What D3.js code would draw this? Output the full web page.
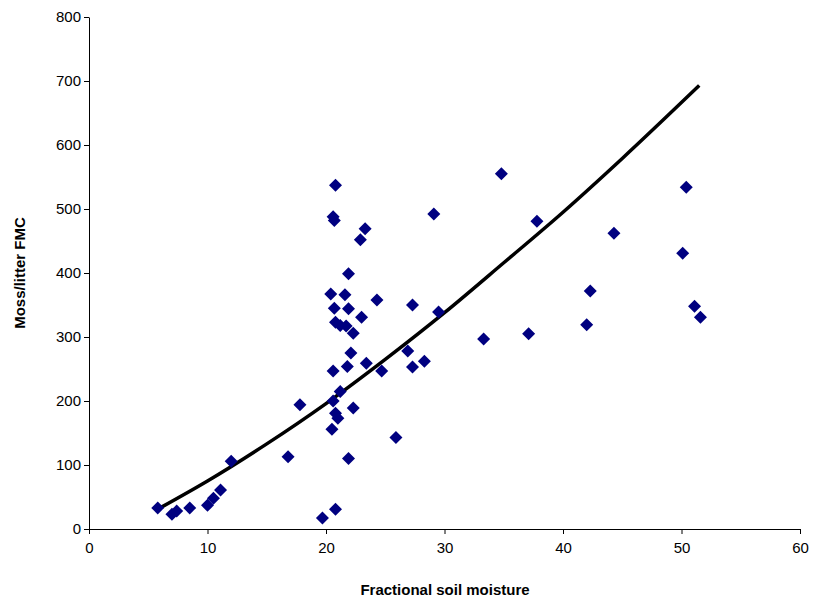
<!DOCTYPE html><html><head><script src="https://cdn.jsdelivr.net/npm/d3@7"></script>
<style>body{margin:0;background:#fff}</style></head><body><svg width="816" height="603"></svg><script>
const xs=[5.8,7.0,7.4,8.5,10.0,10.5,11.1,12.0,16.8,17.8,19.7,20.8,20.8,20.6,20.7,23.3,22.9,21.9,20.4,21.6,20.7,21.9,20.8,21.2,21.7,22.3,23.0,24.3,22.1,21.8,23.4,20.6,20.6,21.2,22.3,20.8,21.0,20.5,21.9,25.9,24.7,26.9,27.3,27.3,28.3,29.5,29.1,34.8,33.3,37.1,37.8,42.0,42.3,44.3,50.1,50.4,51.1,51.6];
const ys=[33,23,28,33,37,48,61,106,113,194,17,31,537,488,482,469,452,399,367,366,345,344,323,318,317,306,331,358,275,254,259,247,200,215,189,181,173,156,110,143,247,278,253,350,262,339,492,555,297,305,481,319,372,462,431,534,348,331];
const fitX=[6,10,15,20,25,30,35,40,45,51.5];
const fitY=[33,75,133,196,265,338,416,495,579,693];
const xTicks=[0,10,20,30,40,50,60], yTicks=[0,100,200,300,400,500,600,700,800];
const svg=d3.select("svg");
const x=d3.scaleLinear([0,60],[89,800]), y=d3.scaleLinear([0,800],[529,17]);
const font="Arial, Liberation Sans, sans-serif";
svg.append("g").attr("transform","translate(0,529)").call(d3.axisBottom(x).tickValues(xTicks).tickSize(5).tickSizeOuter(0))
 .call(g=>{g.selectAll("text").attr("font-size",15).attr("font-family",font).attr("dy","1.05em");g.selectAll("path,line").attr("stroke","#000");});
svg.append("g").attr("transform","translate(89,0)").call(d3.axisLeft(y).tickValues(yTicks).tickSize(5).tickSizeOuter(0))
 .call(g=>{g.selectAll("text").attr("font-size",15).attr("font-family",font);g.selectAll("path,line").attr("stroke","#000");});
svg.append("text").attr("x",445).attr("y",595).attr("text-anchor","middle").attr("font-family",font).attr("font-size",15).attr("font-weight","bold").text("Fractional soil moisture");
svg.append("text").attr("transform","translate(25,273) rotate(-90)").attr("text-anchor","middle").attr("font-family",font).attr("font-size",15).attr("font-weight","bold").text("Moss/litter FMC");
svg.append("path").datum(fitX.map((v,i)=>[v,fitY[i]])).attr("fill","none").attr("stroke","#000").attr("stroke-width",3.5)
 .attr("d",d3.line().x(d=>x(d[0])).y(d=>y(d[1])).curve(d3.curveMonotoneX));
svg.append("g").selectAll("path").data(xs.map((v,i)=>[v,ys[i]])).join("path")
 .attr("transform",d=>`translate(${x(d[0])},${y(d[1])})`).attr("d","M0,-6.5L6.5,0L0,6.5L-6.5,0Z").attr("fill","#000080");
</script></body></html>
